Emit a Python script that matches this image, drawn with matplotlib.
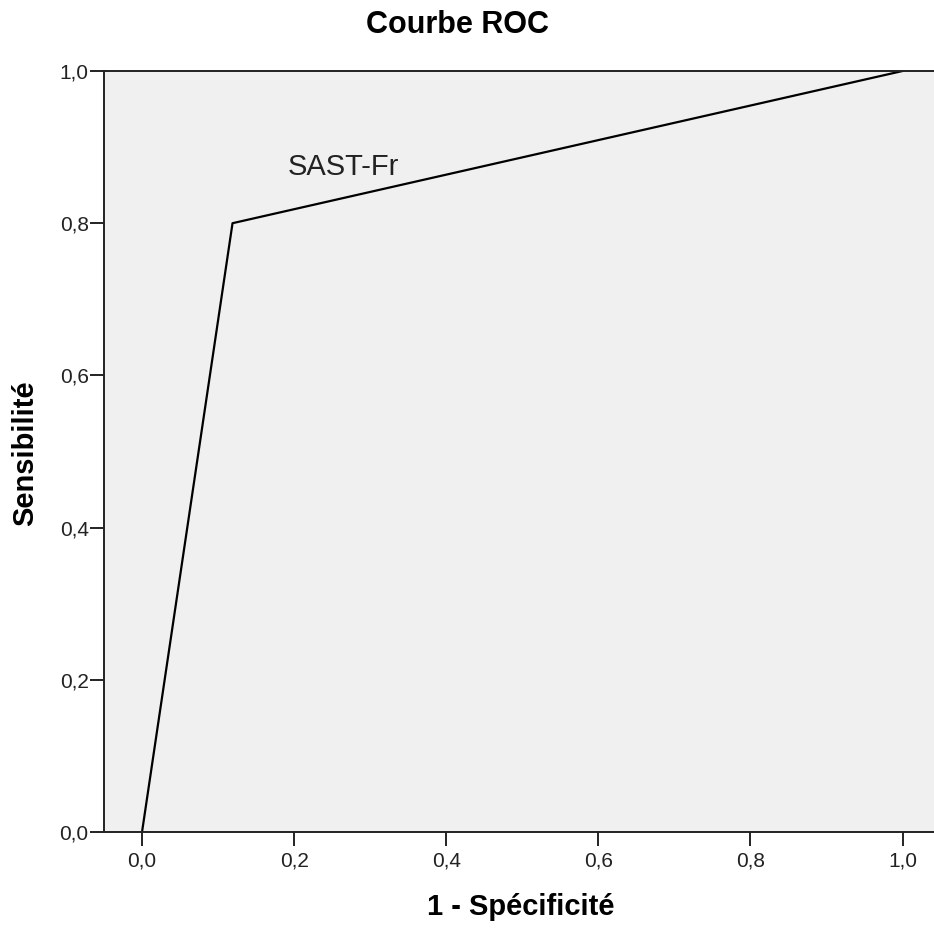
import matplotlib
matplotlib.use("Agg")
import matplotlib.pyplot as plt

# ROC curve points (1 - specificity, sensitivity)
fpr = [0.0, 0.119, 1.0]
tpr = [0.0, 0.80, 1.0]
curve_name = "SAST-Fr"

xticks = [0.0, 0.2, 0.4, 0.6, 0.8, 1.0]
yticks = [0.0, 0.2, 0.4, 0.6, 0.8, 1.0]

plt.rcParams['font.family'] = ['Liberation Sans', 'DejaVu Sans']

fig = plt.figure(figsize=(9.34, 9.31), dpi=100)
ax = fig.add_axes([104 / 934, 99 / 931, 1 - 104 / 934, 761 / 931])
ax.set_facecolor("#f0f0f0")

ax.plot(fpr, tpr, color="black", linewidth=1.6)
ax.text(0.191, 0.863, curve_name, fontsize=21, color="#222222")

ax.set_xlim(-0.050, 1.0414)
ax.set_ylim(0.0, 1.0)
ax.set_xticks(xticks)
ax.set_yticks(yticks)
ax.set_xticklabels([f"{t:.1f}".replace(".", ",") for t in xticks])
ax.set_yticklabels([f"{t:.1f}".replace(".", ",") for t in yticks])
ax.tick_params(axis="both", length=10, width=1.4, labelsize=15, colors="#222222")
ax.tick_params(axis="x", pad=4)
ax.tick_params(axis="y", pad=1)

for side in ["left", "bottom", "top"]:
    ax.spines[side].set_linewidth(1.4)
    ax.spines[side].set_color("#222222")
ax.spines["right"].set_visible(False)

fig.text(458 / 934, 1 - 25 / 931, "Courbe ROC", ha="center", va="center",
         fontsize=22, fontweight="bold")
fig.text(521 / 934, 1 - 907 / 931, "1 - Spécificité", ha="center", va="center",
         fontsize=21, fontweight="bold")
fig.text(25 / 934, 1 - 453 / 931, "Sensibilité", ha="center", va="center",
         rotation=90, fontsize=21, fontweight="bold")

fig.savefig("out.png", dpi=100)
